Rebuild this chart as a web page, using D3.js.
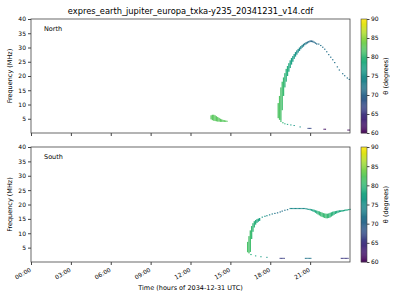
<!DOCTYPE html>
<html>
<head>
<meta charset="utf-8">
<script src="https://cdn.jsdelivr.net/npm/d3@7"></script>
<style>
  body { margin: 0; background: #fff; }
  text { font-family: "DejaVu Sans", sans-serif; fill: #000; }
</style>
</head>
<body>
<div class="chart"></div>
<script>
// values: time (h), freq low / high (MHz), theta (deg)
const northTime = [13.5,13.6,13.7,13.8,13.9,14.0,14.1,14.2,14.3,14.4,14.5,14.6,14.7,
  18.55,18.65,18.75,18.85,18.95,19.05,19.15,19.25,19.35,19.45,19.55,19.65,19.75,19.85,19.95,
  20.05,20.15,20.25,20.35,20.45,20.55,20.65,20.75,20.85,20.95,21.05,21.15,21.25,21.35,21.45,
  21.6,21.75,21.9,22.05,22.2,22.35,22.5,22.65,22.8,23.0,23.15,23.4,23.55,23.75,23.9,
  18.75,18.9,19.05,19.25,19.5,19.75,20.2,
  20.8,20.9,21.0, 22.0,22.1, 23.8,23.9];
const northLow = [4.8,4.5,4.3,4.2,4.1,4.0,4.0,3.9,3.9,3.9,3.9,3.9,4.0,
  5.2,4.6,4.4,8.0,13.0,16.0,18.0,20.0,21.5,22.8,24.0,25.0,26.0,26.8,27.5,
  28.2,28.8,29.4,29.9,30.3,30.8,31.1,31.4,31.7,31.9,31.9,31.8,31.6,31.3,31.0,
  31.0,30.5,29.9,29.2,28.3,27.3,26.4,25.5,24.5,23.0,21.9,20.6,19.9,19.1,18.6,
  3.9,3.4,3.1,2.9,2.7,2.5,2.0,
  1.5,1.5,1.5, 1.2,1.2, 0.9,0.9];
const northHigh = [6.2,6.4,6.4,6.2,5.9,5.6,5.3,5.0,4.8,4.6,4.5,4.4,4.3,
  10.5,13.0,16.0,18.0,19.5,21.0,22.5,23.5,24.5,25.5,26.3,27.0,27.7,28.4,29.0,
  29.5,30.0,30.5,30.9,31.3,31.6,31.9,32.1,32.3,32.5,32.5,32.4,32.1,31.8,31.5,
  31.4,30.9,30.3,29.6,28.7,27.7,26.8,25.9,24.9,23.4,22.3,21.0,20.3,19.5,19.0,
  4.4,3.8,3.4,3.2,3.0,2.8,2.3,
  1.8,1.8,1.8, 1.5,1.5, 1.2,1.2];
const northTheta = [82.5,82.5,82.5,82.5,82.5,82.5,82.5,82.5,82.5,82.5,82.5,82.5,82.5,
  82,82,81.5,81,80.5,80,79.5,79,78.5,78,77.5,77,76.5,76,75.5,
  75,74.5,74,73.5,73,72.5,72,71.5,71,70.5,70.5,70.5,71,71,71,
  71.5,71.5,71.5,71.5,71.5,71.5,71.5,71.5,71.5,71.5,71.5,71.5,71.5,71.5,71.5,
  81,80,79,78,77,76,75,
  67,67,67, 61.5,61.5, 61,61];

const southTime = [16.25,16.35,16.45,16.55,16.65,16.75,16.85,16.95,17.05,17.15,
  17.35,17.55,17.7,17.9,18.1,18.3,18.5,18.7,18.85,19.05,19.25,
  19.45,19.55,19.65,19.75,19.85,19.95,20.05,20.15,20.25,20.35,20.45,20.55,
  20.65,20.75,20.85,20.95,21.05,21.15,21.25,21.35,21.45,21.55,21.65,21.75,21.85,21.95,
  22.05,22.15,22.25,22.35,22.45,22.55,22.65,22.75,22.85,22.95,23.05,23.15,23.25,23.35,
  23.45,23.55,23.65,23.75,23.85,23.95,
  16.5,16.85,17.25,17.7,
  18.7,18.8,18.9,19.0, 20.6,20.7,20.8,20.9,21.0, 23.3,23.4,23.5,23.6,23.7,23.8];
const southLow = [3.4,3.0,3.5,8.0,10.5,12.0,13.0,13.6,14.0,14.3,
  15.4,15.7,15.9,16.2,16.5,16.7,16.9,17.2,17.5,17.8,18.0,
  18.4,18.4,18.4,18.4,18.4,18.4,18.4,18.4,18.4,18.4,18.4,18.4,
  18.3,18.2,18.1,18.0,17.8,17.6,17.4,17.1,16.8,16.5,16.2,15.9,15.7,15.5,
  15.3,15.2,15.2,15.3,15.5,15.8,16.1,16.4,16.7,16.9,17.1,17.3,17.4,17.5,
  17.6,17.7,17.8,17.9,18.0,18.1,
  2.4,2.0,1.7,1.5,
  1.15,1.15,1.15,1.15, 1.15,1.15,1.15,1.15,1.15, 1.15,1.15,1.15,1.15,1.15,1.15];
const southHigh = [7.0,9.0,11.0,12.5,13.5,14.2,14.6,14.9,15.1,15.3,
  15.8,16.1,16.3,16.6,16.9,17.1,17.3,17.6,17.9,18.2,18.4,
  18.8,18.8,18.8,18.8,18.8,18.8,18.8,18.8,18.8,18.8,18.8,18.8,
  18.7,18.6,18.5,18.5,18.4,18.3,18.2,18.0,17.9,17.7,17.6,17.4,17.2,17.0,
  16.9,16.8,16.8,16.9,17.1,17.3,17.5,17.6,17.7,17.8,17.9,18.0,18.0,18.1,
  18.1,18.2,18.3,18.3,18.4,18.5,
  2.8,2.3,2.0,1.8,
  1.45,1.45,1.45,1.45, 1.45,1.45,1.45,1.45,1.45, 1.45,1.45,1.45,1.45,1.45,1.45];
const southTheta = [81.5,81.5,81,80.5,80,79.5,79,78.5,78,77.5,
  76.5,75.5,75,74,73,72,71.5,71.5,71.5,72,72,
  74.5,74.5,74.5,74.5,74.5,74.5,74.5,74.5,74.5,74.5,74.5,74.5,
  75,75.5,76,76.5,77,77.5,78,78.5,79,79.5,80,80.5,80.5,80.5,
  80.5,80.5,80.5,80,80,79.5,79.5,79,79,78.5,78.5,78,78,78,
  78,78,78,78,78,78,
  79,78,77,76,
  66,66,66,66, 72,72,72,72,72, 65.5,65.5,65.5,65.5,65.5,65.5];

const hourTicks = [0,3,6,9,12,15,18,21];
const hourLabels = ['00:00','03:00','06:00','09:00','12:00','15:00','18:00','21:00'];
const freqTicks = [5,10,15,20,25,30,35,40];
const thetaTicks = [60,65,70,75,80,85,90];

const width = 400, height = 300;
const plot = {left: 31, right: 350};
const panels = [
  {name: 'North', top: 19, bottom: 133, time: northTime, lo: northLow, hi: northHigh, th: northTheta},
  {name: 'South', top: 147, bottom: 262, time: southTime, lo: southLow, hi: southHigh, th: southTheta}
];
const cbar = {left: 361, right: 367};
const dt = 0.1; // marker width in hours

const svg = d3.select('.chart').append('svg')
  .attr('width', width).attr('height', height);

const xScale = d3.scaleLinear().domain([0, 24]).range([plot.left, plot.right]);
const color = d3.scaleSequential(d3.interpolateViridis).domain([60, 90]);

svg.append('text')
  .attr('x', (plot.left + plot.right) / 2).attr('y', 14)
  .attr('text-anchor', 'middle').style('font-size', '8.3px')
  .text('expres_earth_jupiter_europa_txka-y235_20341231_v14.cdf');

panels.forEach((p, k) => {
  const yScale = d3.scaleLinear().domain([0, 40]).range([p.bottom, p.top]);
  const g = svg.append('g');

  // marks
  g.selectAll('.cell')
    .data(p.time)
    .enter()
    .append('rect')
    .attr('x', d => xScale(d))
    .attr('width', xScale(dt) - xScale(0))
    .attr('y', (d, i) => yScale(p.hi[i]))
    .attr('height', (d, i) => Math.max(1, yScale(p.lo[i]) - yScale(p.hi[i])))
    .style('fill', (d, i) => color(p.th[i]));

  // frame
  g.append('rect')
    .attr('x', plot.left).attr('y', p.top)
    .attr('width', plot.right - plot.left).attr('height', p.bottom - p.top)
    .style('fill', 'none').style('stroke', '#444').style('stroke-width', 0.8);

  const xAxis = d3.axisBottom(xScale).tickValues(hourTicks).tickSizeOuter(0).tickSize(3)
    .tickFormat((d, i) => k === 1 ? hourLabels[i] : '');
  const xAxisDraw = g.append('g').attr('transform', `translate(0,${p.bottom})`).call(xAxis);
  xAxisDraw.select('.domain').remove();
  xAxisDraw.selectAll('line').style('stroke', '#444');
  xAxisDraw.selectAll('text')
    .style('font-size', '6px')
    .attr('text-anchor', 'end')
    .attr('y', 0).attr('dy', 0)
    .attr('transform', 'translate(0,9) rotate(-30)');

  const yAxis = d3.axisLeft(yScale).tickValues(freqTicks).tickSizeOuter(0).tickSize(3).tickPadding(2);
  const yAxisDraw = g.append('g').attr('transform', `translate(${plot.left},0)`).call(yAxis);
  yAxisDraw.select('.domain').remove();
  yAxisDraw.selectAll('line').style('stroke', '#444');
  yAxisDraw.selectAll('text').style('font-size', '6px');

  g.append('text')
    .attr('transform', `translate(12,${(p.top + p.bottom) / 2}) rotate(-90)`)
    .attr('text-anchor', 'middle').style('font-size', '6.5px')
    .text('Frequency (MHz)');

  g.append('text')
    .attr('x', 44).attr('y', p.top + 12)
    .style('font-size', '6.5px').text(p.name);

  // colorbar
  const cScale = d3.scaleLinear().domain([60, 90]).range([p.bottom, p.top]);
  const steps = d3.range(60, 90, 0.25);
  g.selectAll('.cb')
    .data(steps)
    .enter()
    .append('rect')
    .attr('x', cbar.left).attr('width', cbar.right - cbar.left)
    .attr('y', d => cScale(d + 0.25))
    .attr('height', d => cScale(d) - cScale(d + 0.25) + 0.3)
    .style('fill', d => color(d + 0.125));
  g.append('rect')
    .attr('x', cbar.left).attr('y', p.top)
    .attr('width', cbar.right - cbar.left).attr('height', p.bottom - p.top)
    .style('fill', 'none').style('stroke', '#444').style('stroke-width', 0.6);
  const cAxis = d3.axisRight(cScale).tickValues(thetaTicks).tickSize(2.5).tickPadding(1.5);
  const cAxisDraw = g.append('g').attr('transform', `translate(${cbar.right},0)`).call(cAxis);
  cAxisDraw.select('.domain').remove();
  cAxisDraw.selectAll('line').style('stroke', '#444');
  cAxisDraw.selectAll('text').style('font-size', '6px');

  g.append('text')
    .attr('transform', `translate(388,${(p.top + p.bottom) / 2}) rotate(-90)`)
    .attr('text-anchor', 'middle').style('font-size', '6.5px')
    .text('θ (degrees)');
});

svg.append('text')
  .attr('x', (plot.left + plot.right) / 2).attr('y', 290)
  .attr('text-anchor', 'middle').style('font-size', '6.5px')
  .text('Time (hours of 2034-12-31 UTC)');
</script>
</body>
</html>
